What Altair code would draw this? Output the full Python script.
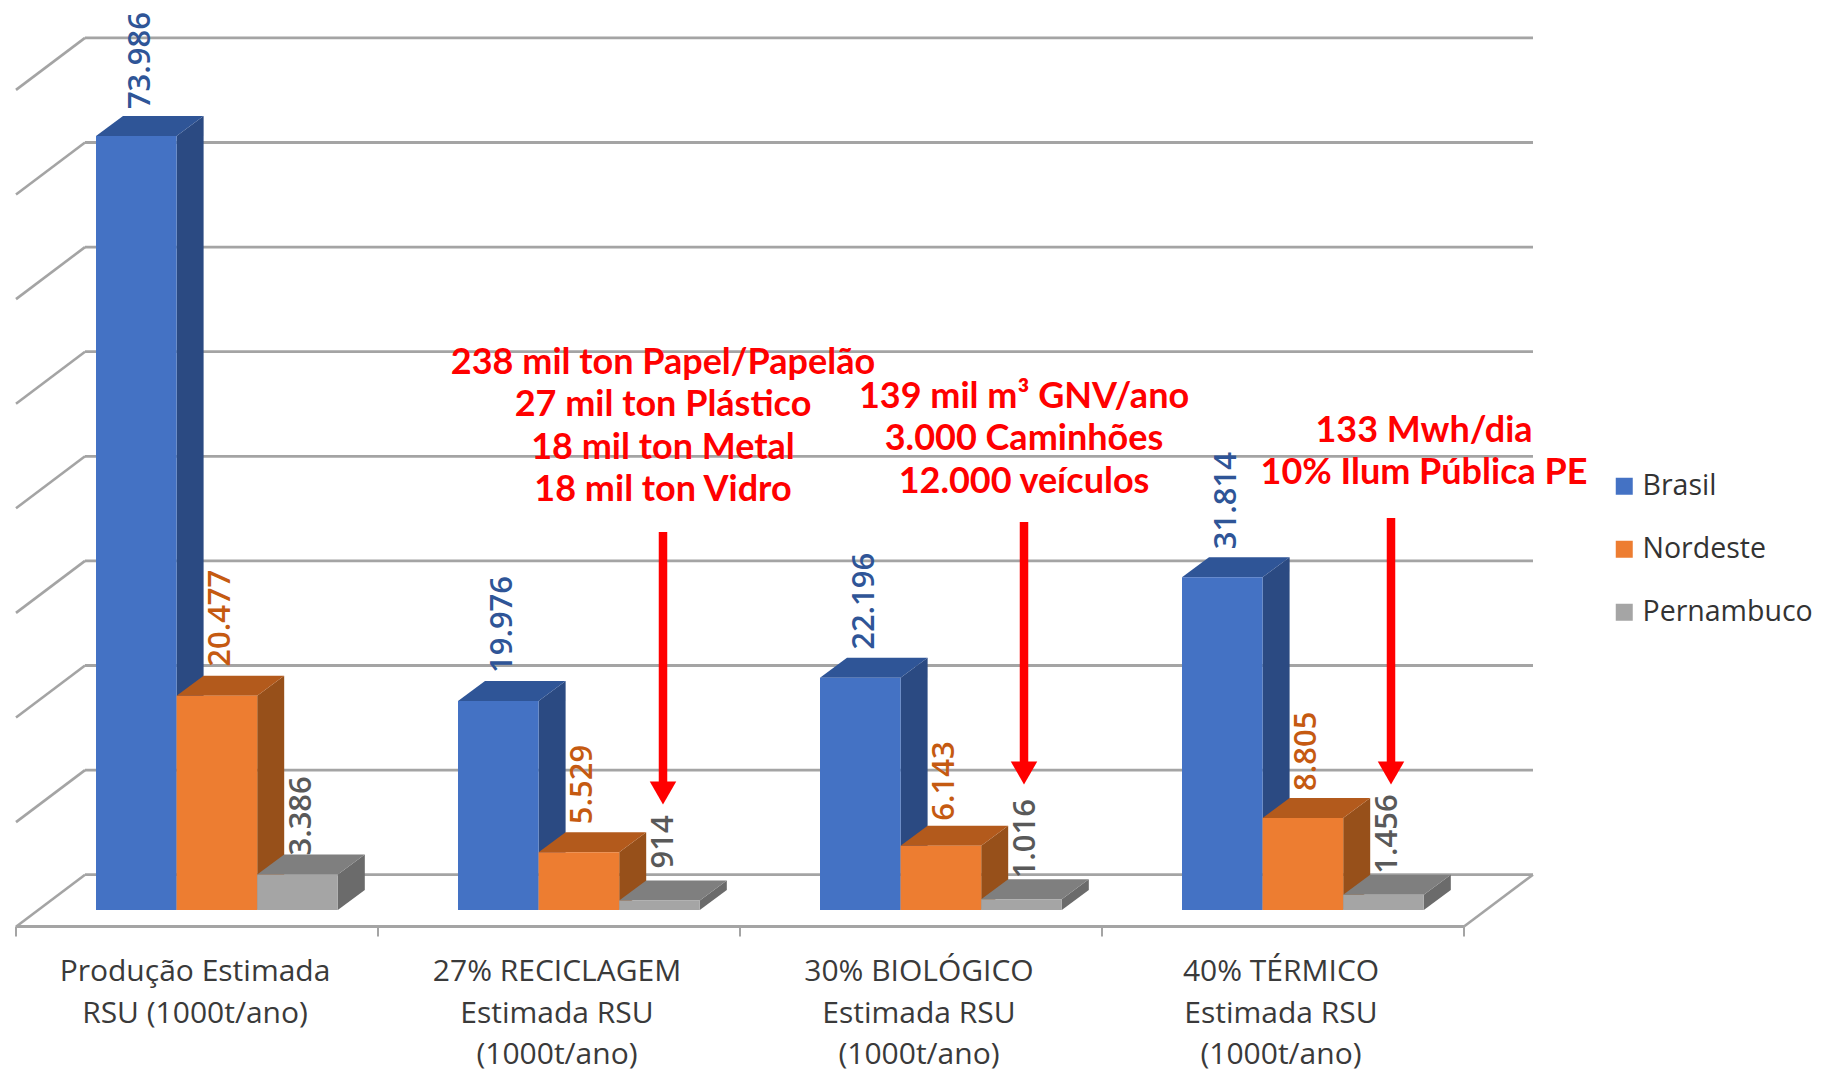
import altair as alt
import pandas as pd

# --- values (thousand t/year) ---
categories = ["Produção Estimada RSU", "27% RECICLAGEM", "30% BIOLÓGICO", "40% TÉRMICO"]
brasil = [73.986, 19.976, 22.196, 31.814]
nordeste = [20.477, 5.529, 6.143, 8.805]
pernambuco = [3.386, 0.914, 1.016, 1.456]
brasil_labels = ["73.986", "19.976", "22.196", "31.814"]
nordeste_labels = ["20.477", "5.529", "6.143", "8.805"]
pernambuco_labels = ["3.386", "914", "1.016", "1.456"]
series_names = ["Brasil", "Nordeste", "Pernambuco"]
tick_lines = [
    ["Produção Estimada", "RSU (1000t/ano)"],
    ["27% RECICLAGEM", "Estimada RSU", "(1000t/ano)"],
    ["30% BIOLÓGICO", "Estimada RSU", "(1000t/ano)"],
    ["40% TÉRMICO", "Estimada RSU", "(1000t/ano)"],
]
notes = [
    ["238 mil ton Papel/Papelão", "27 mil ton Plástico", "18 mil ton Metal", "18 mil ton Vidro"],
    ["139 mil m³ GNV/ano", "3.000 Caminhões", "12.000 veículos"],
    ["133 Mwh/dia", "10% Ilum Pública PE"],
]
grid_values = [0, 10, 20, 30, 40, 50, 60, 70, 80]

# --- page geometry: 362 px per category, 10.46 px per thousand t ---
PX_X, PX_Y = 362.0, 10.46
W, H = 1807, 1066
def X(px): return (px - 16) / PX_X          # page px -> category units
def Y(py): return (910 - py) / PX_Y         # page py -> thousand t
x_scale = alt.Scale(domain=[X(8), X(8 + W)], nice=False, zero=False)
y_scale = alt.Scale(domain=[Y(8 + H), Y(8)], nice=False, zero=False)

BAR_OFF, BAR_W = 80 / PX_X, 80.6 / PX_X
DX, DY = 27 / PX_X, 20 / PX_Y
WALL_DX, WALL_DY = 69 / PX_X, 35.3 / PX_Y
FLOOR_Y = -16.5 / PX_Y
WALL_DROP = 52 / PX_Y

GRID = "#a4a4a4"
front = ["#4472c4", "#ed7d31", "#a5a5a5"]
top = ["#2f5597", "#b35a1c", "#7f7f7f"]
side = ["#2b4a82", "#97501a", "#6b6b6b"]
label_col = ["#2f5597", "#c55a11", "#595959"]
FONT = "Open Sans"

def xenc(f="x"): return alt.X(f"{f}:Q", scale=x_scale, axis=None)
def yenc(f="y"): return alt.Y(f"{f}:Q", scale=y_scale, axis=None)

layers = []

# back wall, left wall, floor
back = pd.DataFrame({"x": WALL_DX - 0.0, "x2": 4 + WALL_DX, "y": [WALL_DY + g for g in grid_values]})
layers.append(alt.Chart(back).mark_rule(color=GRID, strokeWidth=2.8).encode(
    x=xenc(), x2="x2:Q", y=yenc()))
wall = []
for g in grid_values:
    wall.append({"k": g, "x": WALL_DX, "y": WALL_DY + g})
    wall.append({"k": g, "x": 0, "y": WALL_DY + g - WALL_DROP})
layers.append(alt.Chart(pd.DataFrame(wall)).mark_line(color=GRID, strokeWidth=2.6).encode(
    x=xenc(), y=yenc(), detail="k:N"))
layers.append(alt.Chart(pd.DataFrame({"x": [0], "x2": [4], "y": [FLOOR_Y]})).mark_rule(
    color=GRID, strokeWidth=3).encode(x=xenc(), x2="x2:Q", y=yenc()))
edge = pd.DataFrame({"x": [4, 4 + WALL_DX], "y": [FLOOR_Y, WALL_DY]})
layers.append(alt.Chart(edge).mark_line(color=GRID, strokeWidth=2.6).encode(x=xenc(), y=yenc()))
ticks = pd.DataFrame({"x": list(range(5)), "y": [FLOOR_Y] * 5, "y2": [FLOOR_Y - 10 / PX_Y] * 5})
layers.append(alt.Chart(ticks).mark_rule(color=GRID, strokeWidth=2).encode(x=xenc(), y=yenc(), y2="y2:Q"))

# bars, series by series so that each one hides the side of the previous one
all_vals = [brasil, nordeste, pernambuco]
color_scale = alt.Scale(domain=series_names, range=front)
legend = alt.Legend(
    title=None, orient="none", legendX=1602, legendY=464, symbolType="square", symbolSize=289,
    symbolStrokeWidth=0, labelFont=FONT, labelFontSize=28.5, labelColor="#333333", labelLimit=400,
    rowPadding=34, labelOffset=4, symbolOpacity=1,
)
for s, name in enumerate(series_names):
    vals = all_vals[s]
    rows_side, rows_top, rows_front = [], [], []
    for c, v in enumerate(vals):
        l = c + BAR_OFF + s * BAR_W
        r = l + BAR_W
        rows_front.append({"serie": name, "x": l, "x2": r, "y": 0, "y2": v})
        rows_side += [{"c": c, "x": r, "y": 0, "y2": v}, {"c": c, "x": r + DX, "y": DY, "y2": v + DY}]
        rows_top += [{"c": c, "y": v, "x": l, "x2": r}, {"c": c, "y": v + DY, "x": l + DX, "x2": r + DX}]
    layers.append(alt.Chart(pd.DataFrame(rows_side)).mark_area(color=side[s], orient="vertical").encode(
        x=xenc(), y=yenc(), y2="y2:Q", detail="c:N"))
    layers.append(alt.Chart(pd.DataFrame(rows_top)).mark_area(color=top[s], orient="horizontal").encode(
        y=yenc(), x=xenc(), x2="x2:Q", detail="c:N"))
    layers.append(alt.Chart(pd.DataFrame(rows_front)).mark_rect().encode(
        x=xenc(), x2="x2:Q", y=yenc(), y2="y2:Q",
        color=alt.Color("serie:N", scale=color_scale, legend=legend)))

# value labels
all_labels = [brasil_labels, nordeste_labels, pernambuco_labels]
label_gaps = [[7, 8, 8, 8], [9, 8, 5, 7], [-1, 12, 1, 1]]
for s in range(3):
    rows = []
    for c, v in enumerate(all_vals[s]):
        rows.append({
            "x": c + BAR_OFF + (s + 0.5) * BAR_W + 4.5 / PX_X,
            "y": v + DY + label_gaps[s][c] / PX_Y,
            "t": all_labels[s][c],
        })
    layers.append(alt.Chart(pd.DataFrame(rows)).mark_text(
        angle=270, align="left", baseline="middle", font=FONT, fontSize=31, fontWeight=600, color=label_col[s]
    ).encode(x=xenc(), y=yenc(), text="t:N"))

# category labels
rows = []
for c, lines in enumerate(tick_lines):
    for i, t in enumerate(lines):
        rows.append({"x": c + 0.5 - 2 / PX_X, "y": Y(972 + 41.5 * i), "t": t})
layers.append(alt.Chart(pd.DataFrame(rows)).mark_text(
    align="center", baseline="middle", font=FONT, fontSize=30, color="#3a3a3a"
).encode(x=xenc(), y=yenc(), text="t:N"))

# red annotations
note_x = [663, 1024, 1424]
note_y = [363, 397, 431]
rows = []
for n, lines in enumerate(notes):
    for i, t in enumerate(lines):
        rows.append({"x": X(note_x[n]), "y": Y(note_y[n] + 42.3 * i), "t": t})
layers.append(alt.Chart(pd.DataFrame(rows)).mark_text(
    align="center", baseline="middle", font="Lato", fontWeight="bold", fontSize=36, color="#ff0000"
).encode(x=xenc(), y=yenc(), text="t:N"))

# red arrows
arrow_x = [663, 1024, 1391]
arrow_from = [532, 522, 518]
arrow_tip = [805, 785, 785]
shaft = pd.DataFrame({
    "x": [X(a) for a in arrow_x],
    "y": [Y(a) for a in arrow_from],
    "y2": [Y(t - 20) for t in arrow_tip],
})
layers.append(alt.Chart(shaft).mark_rule(color="#ff0000", strokeWidth=8.5).encode(
    x=xenc(), y=yenc(), y2="y2:Q"))
heads = pd.DataFrame({"x": [X(a) for a in arrow_x], "y": [Y(t - 12) for t in arrow_tip]})
layers.append(alt.Chart(heads).mark_point(
    shape="triangle-down", filled=True, size=700, color="#ff0000", opacity=1, strokeWidth=0
).encode(x=xenc(), y=yenc()))

chart = alt.layer(*layers).resolve_scale(color="shared").properties(
    width=W, height=H, padding=0, autosize=alt.AutoSizeParams(type="none"),
    background="white",
).configure_view(stroke=None)

chart.save("out.html", embed_options={"renderer": "svg", "actions": False})
